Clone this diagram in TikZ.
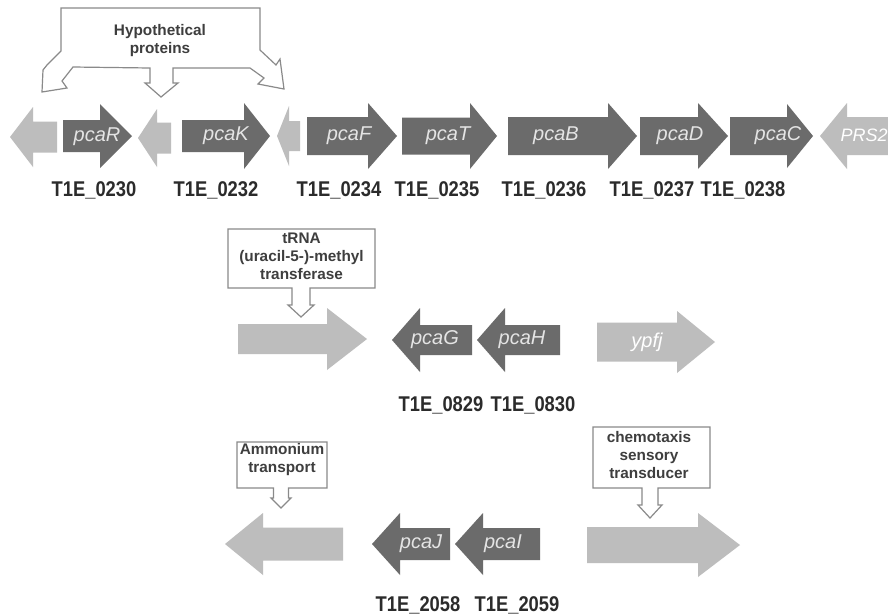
\documentclass[tikz,border=0pt]{standalone}
\usepackage{fontspec}
\setmainfont{Liberation Sans}
\newfontfamily\idfont[FakeStretch=0.86]{Liberation Sans}
\definecolor{geneDark}{HTML}{6B6B6B}
\definecolor{geneLight}{HTML}{BDBDBD}
\definecolor{labelOnDark}{HTML}{E4E4E4}
\definecolor{locusText}{HTML}{2B2B2B}
\definecolor{calloutLine}{HTML}{8A8A8A}
\definecolor{calloutText}{HTML}{3E3E3E}

% gene arrow: tail x, head base x, tip x, axis y, body half-height, head half-height, style
\newcommand\genearrow[7]{%
  \fill[#7] (#1,{#4-#5}) -- (#2,{#4-#5}) -- (#2,{#4-#6}) -- (#3,#4)
    -- (#2,{#4+#6}) -- (#2,{#4+#5}) -- (#1,{#4+#5}) -- cycle;}

% callout box with a downward pointer:
% left, top, right, bottom, pointer x, stem half-width, head half-width, stem end y, tip y
\newcommand\calloutbox[9]{%
  \draw[callout] (#1,#2) -- (#3,#2) -- (#3,#4) -- ({#5+#6},#4) -- ({#5+#6},#8)
    -- ({#5+#7},#8) -- (#5,#9) -- ({#5-#7},#8) -- ({#5-#6},#8) -- ({#5-#6},#4)
    -- (#1,#4) -- cycle;}

\begin{document}
\begin{tikzpicture}[x=0.75pt,y=-0.75pt,
  dark/.style={fill=geneDark},
  light/.style={fill=geneLight},
  genelabel/.style={font=\fontsize{15}{18}\selectfont\itshape, text=labelOnDark, inner sep=0pt},
  genelabellight/.style={genelabel, text=white},
  locus/.style={font=\idfont\fontsize{16}{19}\selectfont\bfseries, text=locusText, inner sep=0pt},
  callout/.style={draw=calloutLine, line width=0.9pt, fill=white, line join=miter},
  callouttext/.style={font=\fontsize{11.5}{13.5}\selectfont\bfseries, text=calloutText, align=center, inner sep=0pt}]

\fill[white] (0,0) rectangle (888,615);
\useasboundingbox (0,0) rectangle (888,615);
\clip (0,0) rectangle (888,615);

% ---------- cluster 1 ----------
\draw[callout] (61,8) -- (260,8) -- (260,50) -- (276,65) -- (280,59) -- (284,89)
  -- (258,84) -- (264,78) -- (250,68) -- (173,68) -- (173,83) -- (178,83)
  -- (161,97) -- (145,83) -- (150,83) -- (150,68) -- (73,67) -- (62,81)
  -- (67,88) -- (42,92) -- (43,70) -- (47,65) -- (61,51) -- cycle;
\node[callouttext] (hyp) at (160,40.5) {Hypothetical\\proteins};

\genearrow{57}{33}{10}{137}{15.5}{30}{light}
\genearrow{63}{100}{132}{136}{16}{32}{dark}
\genearrow{171}{157}{138}{138}{15.5}{29}{light}
\genearrow{182}{244}{270}{136}{16}{33}{dark}
\genearrow{300}{289}{277}{136}{15}{30}{light}
\genearrow{307}{368}{397}{136}{19}{33}{dark}
\genearrow{402}{470}{497}{136}{18.5}{33}{dark}
\genearrow{508}{608}{637}{136}{19}{33}{dark}
\genearrow{640}{698}{728}{136}{19}{33}{dark}
\genearrow{730}{787}{813}{136}{19}{32}{dark}
\genearrow{905}{847}{820}{136}{19}{33}{light}

\node[genelabel] (pcaR) at (97,137) {pcaR};
\node[genelabel] (pcaK) at (226,136) {pcaK};
\node[genelabel] (pcaF) at (349,136) {pcaF};
\node[genelabel] (pcaT) at (448,136) {pcaT};
\node[genelabel] (pcaB) at (556,136) {pcaB};
\node[genelabel] (pcaD) at (680,136) {pcaD};
\node[genelabel] (pcaC) at (778,136) {pcaC};
\node[genelabellight, font=\fontsize{13.5}{16}\selectfont\itshape] (PRS2) at (864,135) {PRS2};

\node[locus] (l0230) at (94,190) {T1E\_0230};
\node[locus] (l0232) at (216,190) {T1E\_0232};
\node[locus] (l0234) at (339,190) {T1E\_0234};
\node[locus] (l0235) at (437,190) {T1E\_0235};
\node[locus] (l0236) at (544,190) {T1E\_0236};
\node[locus] (l0237) at (652,190) {T1E\_0237};
\node[locus] (l0238) at (743,190) {T1E\_0238};

% ---------- cluster 2 ----------
\genearrow{238}{327}{367}{339}{15}{31}{light}
\calloutbox{228}{229}{375}{288}{301}{9}{13}{305}{317}
\node[callouttext] (trna) at (301.5,256) {tRNA\\(uracil-5-)-methyl\\transferase};

\genearrow{472}{420}{392}{340}{15}{32}{dark}
\genearrow{560}{505}{477}{340}{15}{32}{dark}
\genearrow{597}{677}{715}{342}{19.5}{31}{light}

\node[genelabel] (pcaG) at (435,340) {pcaG};
\node[genelabel] (pcaH) at (522,340) {pcaH};
\node[genelabellight] (ypfj) at (647,342) {ypfj};

\node[locus] (l0829) at (441,405) {T1E\_0829};
\node[locus] (l0830) at (533,405) {T1E\_0830};

% ---------- cluster 3 ----------
\genearrow{343}{263}{225}{544}{16.5}{31}{light}
\calloutbox{237}{442}{327}{488}{281}{7.5}{10}{498}{508}
\node[callouttext] (amt) at (282,460) {Ammonium\\transport};

\genearrow{450}{400}{372}{544}{16}{31}{dark}
\genearrow{540}{483}{455}{544}{16}{31}{dark}
\genearrow{587}{698}{740}{545}{18}{32}{light}
\calloutbox{593}{427}{710}{488}{650}{8}{12}{505}{518}
\node[callouttext] (chemo) at (649,455) {chemotaxis\\sensory\\transducer};

\node[genelabel] (pcaJ) at (421,544) {pcaJ};
\node[genelabel] (pcaI) at (503,544) {pcaI};

\node[locus] (l2058) at (418,605) {T1E\_2058};
\node[locus] (l2059) at (517,605) {T1E\_2059};
\end{tikzpicture}
\end{document}
